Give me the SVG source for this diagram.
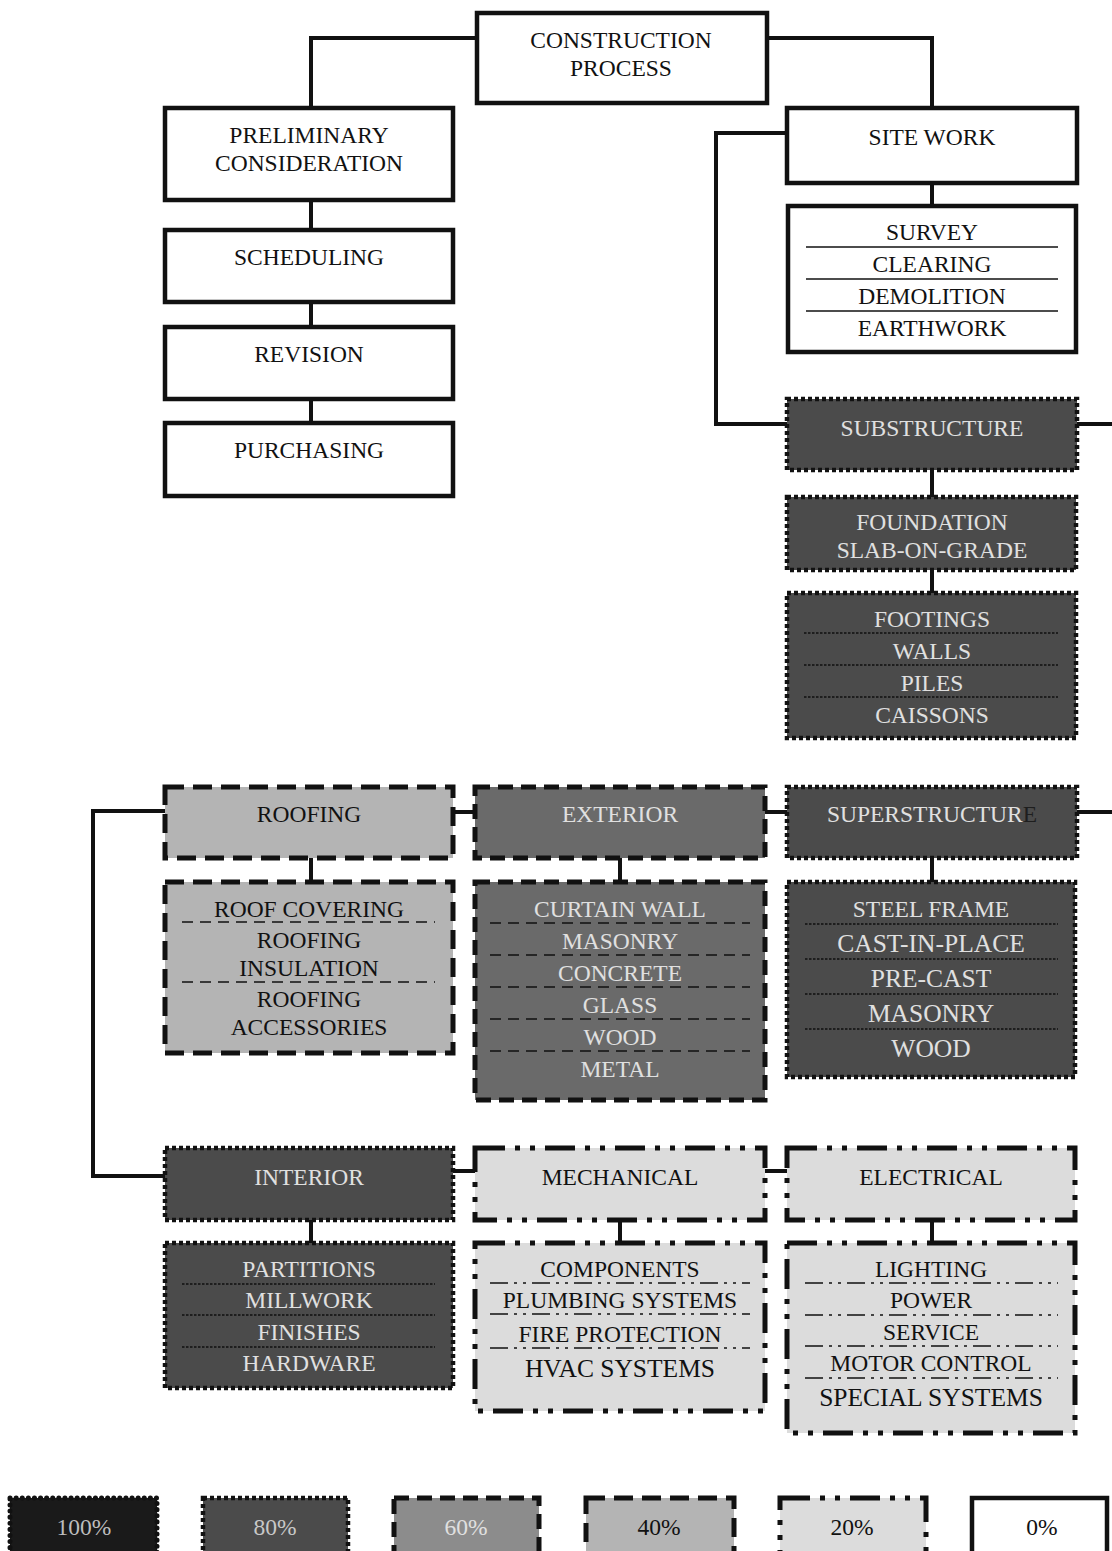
<svg xmlns="http://www.w3.org/2000/svg" width="1112" height="1551" viewBox="0 0 1112 1551">
<style>
.t{font-family:"Liberation Serif","Times New Roman",serif;font-size:23.5px;text-anchor:middle}
.big{font-size:25.5px}
.dk{fill:#e0e0e0}
.lt{fill:#111}
.b0{fill:#fff;stroke:#111;stroke-width:4.5}
.b100{fill:#1a1a1a;stroke:#111;stroke-width:5;stroke-dasharray:0.1 6;stroke-linecap:round}
.b80{fill:#4b4b4b;stroke:#111;stroke-width:4.5;stroke-dasharray:4 3}
.b60{fill:#6a6a6a;stroke:#111;stroke-width:5;stroke-dasharray:15 8}
.b60l{fill:#8c8c8c;stroke:#111;stroke-width:5;stroke-dasharray:15 8}
.b40{fill:#b4b4b4;stroke:#111;stroke-width:5;stroke-dasharray:19 9}
.b20{fill:#dcdcdc;stroke:#111;stroke-width:5;stroke-dasharray:30 10 5 10 5 10}
.conn{fill:none;stroke:#111;stroke-width:4}
.sSolid{stroke:#111;stroke-width:1.6}
.sDot{stroke:#111;stroke-width:1.6;stroke-dasharray:2.5 1.5}
.sDash{stroke:#111;stroke-width:1.6;stroke-dasharray:11 7}
.sDD{stroke:#111;stroke-width:1.6;stroke-dasharray:18 6 3 6 3 6}
</style>

<g id="connectors">
<path class="conn" d="M477 38 H311 V108"/>
<path class="conn" d="M767 38 H932 V108"/>
<path class="conn" d="M311 200 V230 M311 302 V327 M311 399 V423"/>
<path class="conn" d="M787 133 H716 V424 H787"/>
<path class="conn" d="M932 183 V206"/>
<path class="conn" d="M1077 424 H1112"/>
<path class="conn" d="M932 470 V497 M932 570 V593"/>
<path class="conn" d="M453 812 H475 M765 812 H787"/>
<path class="conn" d="M1077 812 H1112"/>
<path class="conn" d="M165 811 H93 V1176 H165"/>
<path class="conn" d="M311 858 V882 M620 858 V882 M932 858 V882"/>
<path class="conn" d="M453 1171 H475 M765 1171 H787"/>
<path class="conn" d="M311 1220 V1243 M620 1220 V1243 M932 1220 V1243"/>
</g>

<g id="construction-process">
<rect class="b0" x="477" y="13" width="290" height="90"/>
<text class="t lt" x="621" y="48">CONSTRUCTION</text>
<text class="t lt" x="621" y="76">PROCESS</text>
</g>

<g id="preliminary">
<rect class="b0" x="165" y="108" width="288" height="92"/>
<text class="t lt" x="309" y="143">PRELIMINARY</text>
<text class="t lt" x="309" y="171">CONSIDERATION</text>
</g>
<g id="scheduling">
<rect class="b0" x="165" y="230" width="288" height="72"/>
<text class="t lt" x="309" y="265">SCHEDULING</text>
</g>
<g id="revision">
<rect class="b0" x="165" y="327" width="288" height="72"/>
<text class="t lt" x="309" y="362">REVISION</text>
</g>
<g id="purchasing">
<rect class="b0" x="165" y="423" width="288" height="73"/>
<text class="t lt" x="309" y="458">PURCHASING</text>
</g>

<g id="site-work">
<rect class="b0" x="787" y="108" width="290" height="75"/>
<text class="t lt" x="932" y="145">SITE WORK</text>
</g>
<g id="site-work-items">
<rect class="b0" x="788" y="206" width="288" height="146"/>
<text class="t lt" x="932" y="240">SURVEY</text>
<text class="t lt" x="932" y="272">CLEARING</text>
<text class="t lt" x="932" y="304">DEMOLITION</text>
<text class="t lt" x="932" y="336">EARTHWORK</text>
<line class="sSolid" x1="806" y1="247" x2="1058" y2="247"/>
<line class="sSolid" x1="806" y1="279" x2="1058" y2="279"/>
<line class="sSolid" x1="806" y1="311" x2="1058" y2="311"/>
</g>

<g id="substructure">
<rect class="b80" x="787" y="399" width="290" height="71"/>
<text class="t dk" x="932" y="436">SUBSTRUCTURE</text>
</g>
<g id="foundation">
<rect class="b80" x="787" y="497" width="289" height="73"/>
<text class="t dk" x="932" y="530">FOUNDATION</text>
<text class="t dk" x="932" y="558">SLAB-ON-GRADE</text>
</g>
<g id="foundation-items">
<rect class="b80" x="787" y="593" width="289" height="145"/>
<text class="t dk" x="932" y="627">FOOTINGS</text>
<text class="t dk" x="932" y="659">WALLS</text>
<text class="t dk" x="932" y="691">PILES</text>
<text class="t dk" x="932" y="723">CAISSONS</text>
<line class="sDot" x1="804" y1="633" x2="1058" y2="633"/>
<line class="sDot" x1="804" y1="665" x2="1058" y2="665"/>
<line class="sDot" x1="804" y1="697" x2="1058" y2="697"/>
</g>

<g id="roofing">
<rect class="b40" x="165" y="787" width="288" height="71"/>
<text class="t lt" x="309" y="822">ROOFING</text>
</g>
<g id="roofing-items">
<rect class="b40" x="165" y="882" width="288" height="171"/>
<text class="t lt" x="309" y="917">ROOF COVERING</text>
<text class="t lt" x="309" y="948">ROOFING</text>
<text class="t lt" x="309" y="976">INSULATION</text>
<text class="t lt" x="309" y="1007">ROOFING</text>
<text class="t lt" x="309" y="1035">ACCESSORIES</text>
<line class="sDash" x1="182" y1="922" x2="435" y2="922"/>
<line class="sDash" x1="182" y1="982" x2="435" y2="982"/>
</g>

<g id="exterior">
<rect class="b60" x="475" y="787" width="290" height="71"/>
<text class="t dk" x="620" y="822">EXTERIOR</text>
</g>
<g id="exterior-items">
<rect class="b60" x="475" y="882" width="290" height="218"/>
<text class="t dk" x="620" y="917">CURTAIN WALL</text>
<text class="t dk" x="620" y="949">MASONRY</text>
<text class="t dk" x="620" y="981">CONCRETE</text>
<text class="t dk" x="620" y="1013">GLASS</text>
<text class="t dk" x="620" y="1045">WOOD</text>
<text class="t dk" x="620" y="1077">METAL</text>
<line class="sDash" x1="490" y1="923" x2="750" y2="923"/>
<line class="sDash" x1="490" y1="955" x2="750" y2="955"/>
<line class="sDash" x1="490" y1="987" x2="750" y2="987"/>
<line class="sDash" x1="490" y1="1019" x2="750" y2="1019"/>
<line class="sDash" x1="490" y1="1051" x2="750" y2="1051"/>
</g>

<g id="superstructure">
<rect class="b80" x="787" y="787" width="290" height="71"/>
<text class="t dk" x="932" y="822">SUPERSTRUCTUR<tspan fill="#1e1e1e">E</tspan></text>
</g>
<g id="superstructure-items">
<rect class="b80" x="787" y="882" width="288" height="195"/>
<text class="t dk" x="931" y="917">STEEL FRAME</text>
<text class="t dk big" x="931" y="952">CAST-IN-PLACE</text>
<text class="t dk big" x="931" y="987">PRE-CAST</text>
<text class="t dk big" x="931" y="1022">MASONRY</text>
<text class="t dk big" x="931" y="1057">WOOD</text>
<line class="sDot" x1="805" y1="924" x2="1058" y2="924"/>
<line class="sDot" x1="805" y1="959" x2="1058" y2="959"/>
<line class="sDot" x1="805" y1="994" x2="1058" y2="994"/>
<line class="sDot" x1="805" y1="1029" x2="1058" y2="1029"/>
</g>

<g id="interior">
<rect class="b80" x="165" y="1148" width="288" height="72"/>
<text class="t dk" x="309" y="1185">INTERIOR</text>
</g>
<g id="interior-items">
<rect class="b80" x="165" y="1243" width="288" height="145"/>
<text class="t dk" x="309" y="1277">PARTITIONS</text>
<text class="t dk" x="309" y="1308">MILLWORK</text>
<text class="t dk" x="309" y="1340">FINISHES</text>
<text class="t dk" x="309" y="1371">HARDWARE</text>
<line class="sDot" x1="182" y1="1284" x2="435" y2="1284"/>
<line class="sDot" x1="182" y1="1315" x2="435" y2="1315"/>
<line class="sDot" x1="182" y1="1347" x2="435" y2="1347"/>
</g>

<g id="mechanical">
<rect class="b20" x="475" y="1148" width="290" height="72"/>
<text class="t lt" x="620" y="1185">MECHANICAL</text>
</g>
<g id="mechanical-items">
<rect class="b20" x="475" y="1243" width="290" height="168"/>
<text class="t lt" x="620" y="1277">COMPONENTS</text>
<text class="t lt" x="620" y="1308">PLUMBING SYSTEMS</text>
<text class="t lt" x="620" y="1342">FIRE PROTECTION</text>
<text class="t lt big" x="620" y="1377">HVAC SYSTEMS</text>
<line class="sDD" x1="490" y1="1283" x2="750" y2="1283"/>
<line class="sDD" x1="490" y1="1314" x2="750" y2="1314"/>
<line class="sDD" x1="490" y1="1348" x2="750" y2="1348"/>
</g>

<g id="electrical">
<rect class="b20" x="787" y="1148" width="288" height="72"/>
<text class="t lt" x="931" y="1185">ELECTRICAL</text>
</g>
<g id="electrical-items">
<rect class="b20" x="787" y="1243" width="288" height="190"/>
<text class="t lt" x="931" y="1277">LIGHTING</text>
<text class="t lt" x="931" y="1308">POWER</text>
<text class="t lt" x="931" y="1340">SERVICE</text>
<text class="t lt" x="931" y="1371">MOTOR CONTROL</text>
<text class="t lt big" x="931" y="1406">SPECIAL SYSTEMS</text>
<line class="sDD" x1="805" y1="1283" x2="1058" y2="1283"/>
<line class="sDD" x1="805" y1="1315" x2="1058" y2="1315"/>
<line class="sDD" x1="805" y1="1346" x2="1058" y2="1346"/>
<line class="sDD" x1="805" y1="1378" x2="1058" y2="1378"/>
</g>

<g id="legend">
<g id="legend-100"><rect class="b100" x="10" y="1498" width="147" height="70"/><text class="t" fill="#bdbdbd" x="84" y="1535">100%</text></g>
<g id="legend-80"><rect class="b80" x="203" y="1498" width="145" height="70"/><text class="t" fill="#c8c8c8" x="275" y="1535">80%</text></g>
<g id="legend-60"><rect class="b60l" x="394" y="1498" width="145" height="70"/><text class="t dk" x="466" y="1535">60%</text></g>
<g id="legend-40"><rect class="b40" x="586" y="1498" width="148" height="70"/><text class="t lt" x="659" y="1535">40%</text></g>
<g id="legend-20"><rect class="b20" x="780" y="1498" width="146" height="70"/><text class="t lt" x="852" y="1535">20%</text></g>
<g id="legend-0"><rect class="b0" x="972" y="1498" width="135" height="70"/><text class="t lt" x="1042" y="1535">0%</text></g>
</g>
</svg>
